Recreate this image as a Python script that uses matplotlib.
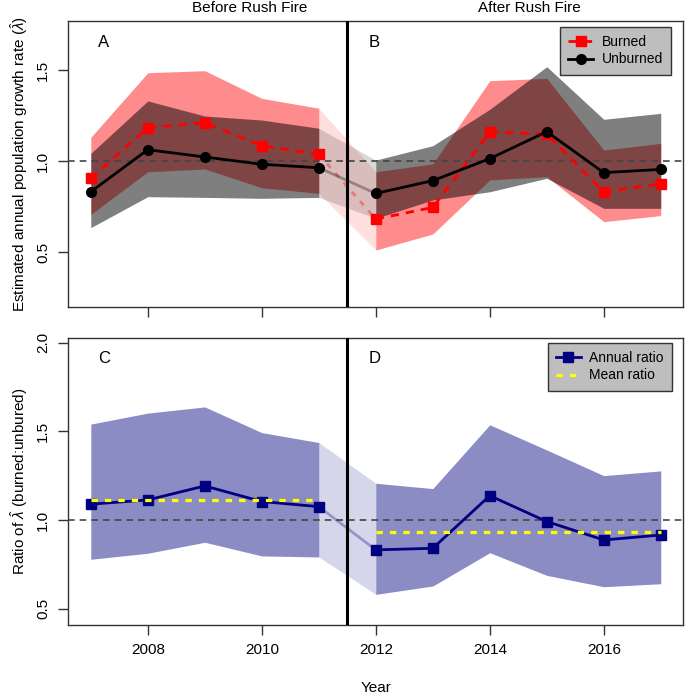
import matplotlib
matplotlib.use("Agg")
import matplotlib.pyplot as plt
import numpy as np

plt.rcParams['font.family'] = ['Liberation Sans', 'DejaVu Sans']
plt.rcParams['mathtext.fontset'] = 'custom'
plt.rcParams['mathtext.rm'] = 'Liberation Sans'
plt.rcParams['mathtext.it'] = 'Liberation Sans:italic'

years = [2007, 2008, 2009, 2010, 2011, 2012, 2013, 2014, 2015, 2016, 2017]

burned = [0.905, 1.183, 1.210, 1.084, 1.037, 0.681, 0.745, 1.159, 1.148, 0.830, 0.875]
burned_lo = [0.707, 0.941, 0.956, 0.853, 0.822, 0.511, 0.599, 0.896, 0.914, 0.667, 0.700]
burned_hi = [1.130, 1.485, 1.496, 1.344, 1.290, 0.941, 0.984, 1.441, 1.454, 1.060, 1.097]

unburned = [0.831, 1.062, 1.022, 0.982, 0.963, 0.822, 0.892, 1.013, 1.161, 0.936, 0.954]
unburned_lo = [0.634, 0.804, 0.800, 0.795, 0.800, 0.685, 0.786, 0.831, 0.905, 0.740, 0.740]
unburned_hi = [1.042, 1.330, 1.247, 1.225, 1.180, 1.005, 1.084, 1.284, 1.518, 1.229, 1.262]

ratio = [1.089, 1.113, 1.192, 1.104, 1.075, 0.831, 0.840, 1.137, 0.991, 0.887, 0.915]
ratio_lo = [0.778, 0.812, 0.874, 0.797, 0.791, 0.580, 0.627, 0.815, 0.687, 0.623, 0.640]
ratio_hi = [1.541, 1.603, 1.638, 1.493, 1.437, 1.207, 1.177, 1.537, 1.395, 1.250, 1.277]

mean_before = 1.113
mean_after = 0.934

fire_year = 2011.5
xticks = [2008, 2010, 2012, 2014, 2016]

yr = np.array(years)
pre = yr <= 2011
post = yr >= 2012
tr = (yr >= 2011) & (yr <= 2012)

def arr(a):
    return np.array(a)

fig = plt.figure(figsize=(6.85, 6.96), dpi=100)
ax1 = fig.add_axes([68/685, 1-307/696, (683-68)/685, (307-21)/696])
ax2 = fig.add_axes([68/685, 1-625/696, (683-68)/685, (625-338)/696])

RED = (1, 0, 0)
NAVY = (0, 0, 0.5)

def add_legend(ax, anchor):
    leg = ax.legend(loc='upper right', bbox_to_anchor=anchor, bbox_transform=fig.transFigure,
                    borderaxespad=0, fontsize=10, frameon=True, fancybox=False, framealpha=1,
                    facecolor='#BEBEBE', edgecolor='#333333', handlelength=1.8, handletextpad=0.6,
                    labelspacing=0.22, borderpad=0.6)
    leg.get_frame().set_linewidth(1.0)
    leg.set_zorder(10)
    return leg

# ---------- top panel ----------
ax = ax1
for seg in (pre, post):
    ax.fill_between(yr[seg], arr(burned_lo)[seg], arr(burned_hi)[seg], color=RED, alpha=0.45, lw=0, zorder=1)
for seg in (pre, post):
    ax.fill_between(yr[seg], arr(unburned_lo)[seg], arr(unburned_hi)[seg], color='black', alpha=0.5, lw=0, zorder=2)
ax.fill_between(yr[tr], arr(burned_lo)[tr], arr(burned_hi)[tr], color=RED, alpha=0.13, lw=0, zorder=1)
ax.fill_between(yr[tr], arr(unburned_lo)[tr], arr(unburned_hi)[tr], color='black', alpha=0.15, lw=0, zorder=2)
ax.axhline(1.0, color='#444444', ls=(0, (4, 3)), lw=1.2, zorder=3)
ax.plot(yr[tr], arr(burned)[tr], color=RED, alpha=0.35, ls=(0, (2, 2.5)), lw=2, zorder=4)
ax.plot(yr[tr], arr(unburned)[tr], color='black', alpha=0.3, lw=2, zorder=4)
for i, seg in enumerate((pre, post)):
    ax.plot(yr[seg], arr(burned)[seg], color=RED, ls=(0, (3, 2.5)), lw=2, marker='s', ms=6.5,
            zorder=5, label='Burned' if i == 0 else None)
    ax.plot(yr[seg], arr(unburned)[seg], color='black', lw=2, marker='o', ms=7,
            zorder=6, label='Unburned' if i == 0 else None)
ax.axvline(fire_year, color='black', lw=2.2, zorder=7)
ax.set_xlim(2006.6, 2017.39)
ax.set_ylim(0.198, 1.769)
ax.set_yticks([0.5, 1.0, 1.5])
ax.set_xticks(xticks)
ax.set_xticklabels([])
ax.set_ylabel(r'Estimated annual population growth rate ($\hat{\lambda}$)', fontsize=11, labelpad=4)
ax.text(2007.23, 1.65, 'A', fontsize=12, ha='center', va='center')
ax.text(2011.98, 1.65, 'B', fontsize=12, ha='center', va='center')
add_legend(ax, (671/685, 1-27/696))

# ---------- bottom panel ----------
ax = ax2
for seg in (pre, post):
    ax.fill_between(yr[seg], arr(ratio_lo)[seg], arr(ratio_hi)[seg], color=NAVY, alpha=0.45, lw=0, zorder=1)
ax.fill_between(yr[tr], arr(ratio_lo)[tr], arr(ratio_hi)[tr], color=NAVY, alpha=0.16, lw=0, zorder=1)
ax.axhline(1.0, color='#444444', ls=(0, (4, 3)), lw=1.2, zorder=3)
ax.plot(yr[tr], arr(ratio)[tr], color=NAVY, alpha=0.3, lw=2, zorder=4)
for i, seg in enumerate((pre, post)):
    ax.plot(yr[seg], arr(ratio)[seg], color=NAVY, lw=2, marker='s', ms=6.5, zorder=5,
            label='Annual ratio' if i == 0 else None)
ax.plot([2007, 2011], [mean_before, mean_before], color='yellow', ls=(0, (2, 2.2)), lw=2.3, zorder=6,
        label='Mean ratio')
ax.plot([2012, 2017], [mean_after, mean_after], color='yellow', ls=(0, (2, 2.2)), lw=2.3, zorder=6)
ax.axvline(fire_year, color='black', lw=2.2, zorder=7)
ax.set_xlim(2006.6, 2017.39)
ax.set_ylim(0.407, 2.027)
ax.set_yticks([0.5, 1.0, 1.5, 2.0])
ax.set_xticks(xticks)
ax.set_xticklabels([str(t) for t in xticks])
ax.set_ylabel(r'Ratio of $\hat{\lambda}$ (burned:unbured)', fontsize=11, labelpad=4)
ax.text(2007.23, 1.91, 'C', fontsize=12, ha='center', va='center')
ax.text(2011.98, 1.91, 'D', fontsize=12, ha='center', va='center')
add_legend(ax, (672/685, 1-343/696))

for ax in (ax1, ax2):
    for sp in ax.spines.values():
        sp.set_color('#333333')
        sp.set_linewidth(1.0)
    ax.tick_params(axis='both', direction='out', length=7, width=1, color='#333333',
                   labelsize=11, pad=6)
    for lab in ax.get_yticklabels():
        lab.set_rotation(90)
        lab.set_va('center')

fig.text(250/685, 1-8/696, 'Before Rush Fire', ha='center', va='center', fontsize=11)
fig.text(529/685, 1-8/696, 'After Rush Fire', ha='center', va='center', fontsize=11)
fig.text(376/685, 1-688/696, 'Year', ha='center', va='center', fontsize=11)

fig.savefig('out.png', dpi=100)
